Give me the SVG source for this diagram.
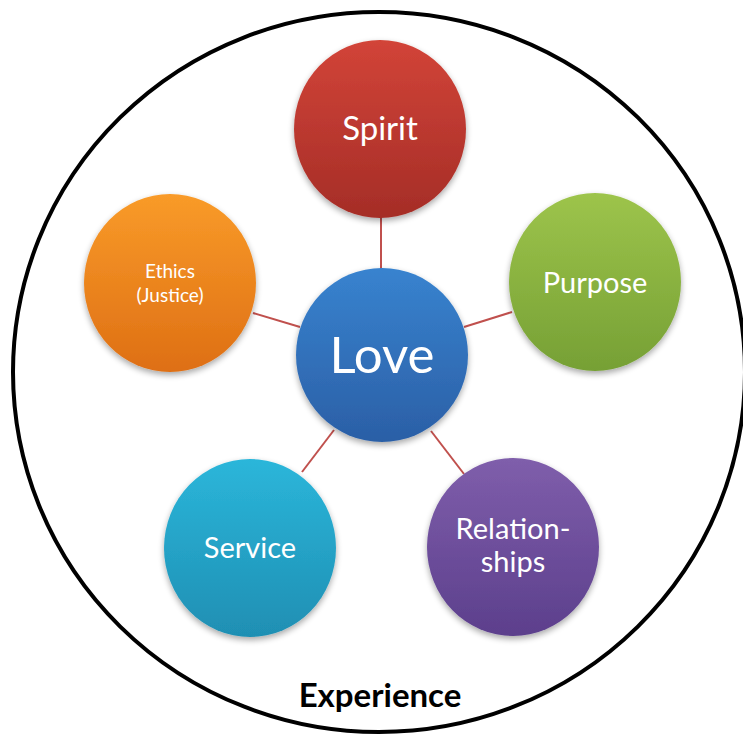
<svg xmlns="http://www.w3.org/2000/svg" width="743" height="735" viewBox="0 0 743 735">
<style>
.lbl{font-family:Lato,"Open Sans","Liberation Sans",sans-serif;fill:#ffffff;text-anchor:middle}
.conn{stroke:#c0504d;stroke-width:2;fill:none}
.exp{font-family:Lato,"Liberation Sans",sans-serif;font-weight:bold;fill:#000;text-anchor:middle;font-size:33px}
</style>
<defs>
<filter id="sh" x="-20%" y="-20%" width="140%" height="150%">
<feGaussianBlur in="SourceAlpha" stdDeviation="3"/>
<feOffset dy="3" result="b"/>
<feComponentTransfer><feFuncA type="linear" slope="0.35"/></feComponentTransfer>
<feMerge><feMergeNode/><feMergeNode in="SourceGraphic"/></feMerge>
</filter>
<linearGradient id="gRed" x1="0" y1="0" x2="0" y2="1"><stop offset="0" stop-color="#d24438"/><stop offset="1" stop-color="#a52d27"/></linearGradient>
<linearGradient id="gGreen" x1="0" y1="0" x2="0" y2="1"><stop offset="0" stop-color="#9dc44b"/><stop offset="1" stop-color="#76a035"/></linearGradient>
<linearGradient id="gOrange" x1="0" y1="0" x2="0" y2="1"><stop offset="0" stop-color="#f99b29"/><stop offset="1" stop-color="#de6f14"/></linearGradient>
<linearGradient id="gBlue" x1="0" y1="0" x2="0" y2="1"><stop offset="0" stop-color="#3883cf"/><stop offset="1" stop-color="#2b5fa6"/></linearGradient>
<linearGradient id="gCyan" x1="0" y1="0" x2="0" y2="1"><stop offset="0" stop-color="#2bb6da"/><stop offset="1" stop-color="#1f8fb3"/></linearGradient>
<linearGradient id="gPurple" x1="0" y1="0" x2="0" y2="1"><stop offset="0" stop-color="#7f5eab"/><stop offset="1" stop-color="#5c3f8c"/></linearGradient>
</defs>
<rect width="743" height="735" fill="#ffffff"/>
<g id="experience">
<ellipse cx="379" cy="372" rx="366" ry="360" fill="none" stroke="#000" stroke-width="4"/>
<text class="exp" x="380" y="707">Experience</text>
</g>
<g id="connectors">
<line class="conn" x1="381" y1="215" x2="381" y2="270"/>
<line class="conn" x1="253" y1="313" x2="300" y2="327"/>
<line class="conn" x1="512" y1="312" x2="464" y2="327"/>
<line class="conn" x1="302" y1="472" x2="334" y2="430"/>
<line class="conn" x1="464" y1="474" x2="431" y2="431"/>
</g>
<g id="spirit">
<ellipse cx="380" cy="129" rx="86" ry="89" fill="url(#gRed)" filter="url(#sh)"/>
<text class="lbl" x="380" y="140" font-size="33">Spirit</text>
</g>
<g id="purpose">
<ellipse cx="595" cy="282" rx="86" ry="89" fill="url(#gGreen)" filter="url(#sh)"/>
<text class="lbl" x="595" y="293" font-size="29">Purpose</text>
</g>
<g id="ethics">
<ellipse cx="170" cy="283" rx="86" ry="89" fill="url(#gOrange)" filter="url(#sh)"/>
<text class="lbl" x="170" y="278" font-size="19">Ethics</text>
<text class="lbl" x="170" y="302" font-size="19">(Justice)</text>
</g>
<g id="love">
<ellipse cx="382" cy="355" rx="86" ry="87" fill="url(#gBlue)" filter="url(#sh)"/>
<text class="lbl" x="382" y="373" font-size="51">Love</text>
</g>
<g id="service">
<ellipse cx="250" cy="548" rx="86" ry="89" fill="url(#gCyan)" filter="url(#sh)"/>
<text class="lbl" x="250" y="558" font-size="29">Service</text>
</g>
<g id="relationships">
<ellipse cx="513" cy="547" rx="86" ry="89" fill="url(#gPurple)" filter="url(#sh)"/>
<text class="lbl" x="513" y="539" font-size="29">Relation-</text>
<text class="lbl" x="513" y="572" font-size="29">ships</text>
</g>
</svg>
